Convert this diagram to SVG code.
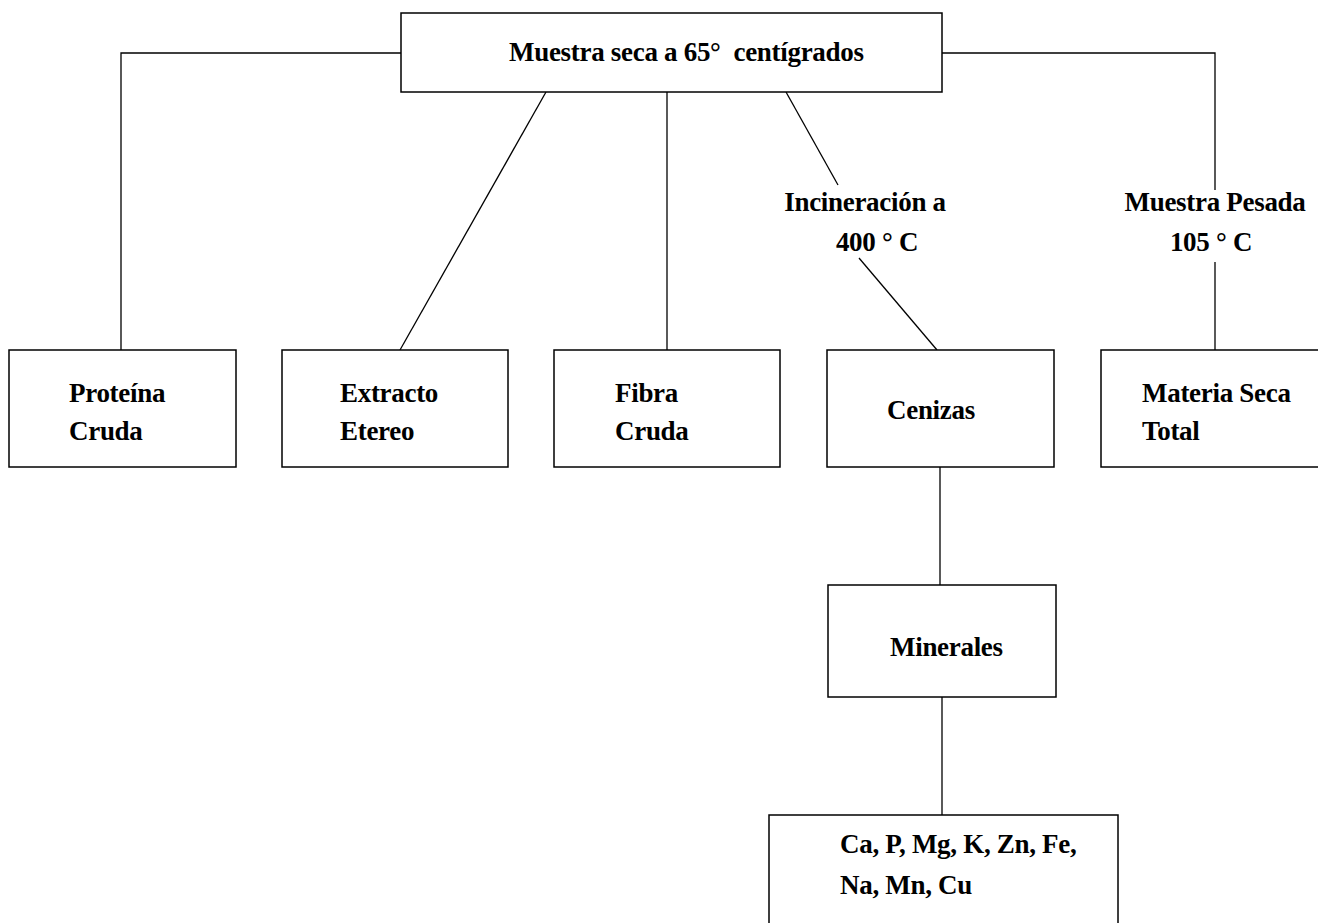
<svg xmlns="http://www.w3.org/2000/svg" width="1318" height="923" viewBox="0 0 1318 923">
<style>
.box{fill:#fff;stroke:#000;stroke-width:1.5}
.ln{fill:none;stroke:#000;stroke-width:1.3}
text{font-family:"Liberation Serif","Times New Roman",serif;font-size:27px;fill:#000;font-weight:bold;letter-spacing:-0.3px}
</style>
<rect width="1318" height="923" fill="#fff"/>
<g id="connectors">
<polyline class="ln" points="401,53 121,53 121,350"/>
<polyline class="ln" points="942,53 1215,53 1215,190"/>
<line class="ln" x1="1215" y1="262" x2="1215" y2="350"/>
<line class="ln" x1="546" y1="92" x2="400" y2="350"/>
<line class="ln" x1="667" y1="92" x2="667" y2="350"/>
<line class="ln" x1="786" y1="92" x2="838" y2="185"/>
<line class="ln" x1="859" y1="258" x2="937" y2="350"/>
<line class="ln" x1="940" y1="467" x2="940" y2="585"/>
<line class="ln" x1="942" y1="697" x2="942" y2="815"/>
<text x="865" y="211" text-anchor="middle">Incineración a</text>
<text x="877" y="251" text-anchor="middle">400 ° C</text>
<text x="1215" y="211" text-anchor="middle">Muestra Pesada</text>
<text x="1211" y="251" text-anchor="middle">105 ° C</text>
</g>
<g id="top">
<rect class="box" x="401" y="13" width="541" height="79"/>
<text x="509" y="61" xml:space="preserve">Muestra seca a 65°  centígrados</text>
</g>
<g id="proteina">
<rect class="box" x="9" y="350" width="227" height="117"/>
<text x="69" y="402">Proteína</text>
<text x="69" y="440">Cruda</text>
</g>
<g id="extracto">
<rect class="box" x="282" y="350" width="226" height="117"/>
<text x="340" y="402">Extracto</text>
<text x="340" y="440">Etereo</text>
</g>
<g id="fibra">
<rect class="box" x="554" y="350" width="226" height="117"/>
<text x="615" y="402">Fibra</text>
<text x="615" y="440">Cruda</text>
</g>
<g id="cenizas">
<rect class="box" x="827" y="350" width="227" height="117"/>
<text x="887" y="419">Cenizas</text>
</g>
<g id="materia">
<rect class="box" x="1101" y="350" width="230" height="117"/>
<text x="1142" y="402">Materia Seca</text>
<text x="1142" y="440">Total</text>
</g>
<g id="minerales">
<rect class="box" x="828" y="585" width="228" height="112"/>
<text x="890" y="656">Minerales</text>
</g>
<g id="elementos">
<rect class="box" x="769" y="815" width="349" height="120"/>
<text x="840" y="853">Ca, P, Mg, K, Zn, Fe,</text>
<text x="840" y="894">Na, Mn, Cu</text>
</g>
</svg>
